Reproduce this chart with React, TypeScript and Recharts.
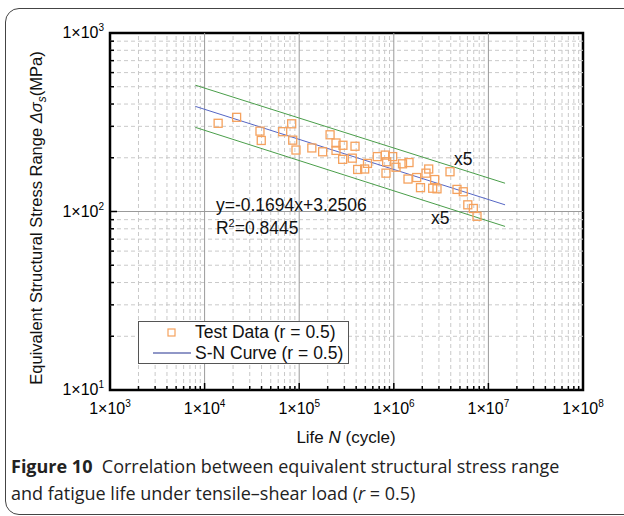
import {
  ScatterChart,
  Scatter,
  XAxis,
  YAxis,
  ReferenceLine,
  ReferenceArea,
  ReferenceDot,
} from "recharts";

// test points (life in cycles, stress range in MPa)
const testN = [
  13900, 21800, 38500, 39700, 66900, 83300, 85400, 92500, 136000, 177000,
  212000, 245000, 290000, 389000, 245000, 288000, 364000, 415000, 492000,
  527000, 669000, 812000, 973000, 841000, 827000, 1055000, 1236000, 1448000,
  1413000, 1746000, 2189000, 2339000, 1915000, 2706000, 2577000, 2862000,
  3928000, 4656000, 5428000, 6057000, 6925000, 7577000,
];
const testS = [
  312, 337, 282, 250, 280, 310, 251, 221, 227, 216, 269, 242, 235, 232, 220,
  196, 199, 172, 173, 186, 203, 207, 203, 190, 164, 177, 185, 188, 152, 155,
  164, 173, 136, 151, 135, 134, 167, 133, 129, 109, 104, 94,
];

// S-N curve and the x5 scatter band, end points
const lineN = [8000, 15000000];
const fitS = [388, 109];
const upperS = [510, 144];
const lowerS = [296, 82.5];

const xMajor = [1e3, 1e4, 1e5, 1e6, 1e7, 1e8];
const yMajor = [10, 100, 1000];
const xMinor = xMajor.slice(0, -1).flatMap((d) =>
  [2, 3, 4, 5, 6, 7, 8, 9].map((m) => m * d)
);
const yMinor = yMajor.slice(0, -1).flatMap((d) =>
  [2, 3, 4, 5, 6, 7, 8, 9].map((m) => m * d)
);
const expOf: Record<number, string> = {
  10: "1", 100: "2", 1000: "3", 10000: "4", 100000: "5",
  1000000: "6", 10000000: "7", 100000000: "8",
};

const testData = testN.map((n, i) => ({ n, s: testS[i] }));
const fitData = lineN.map((n, i) => ({ n, s: fitS[i] }));
const upperData = lineN.map((n, i) => ({ n, s: upperS[i] }));
const lowerData = lineN.map((n, i) => ({ n, s: lowerS[i] }));

const FONT = "'Liberation Sans', Arial, sans-serif";
const ORANGE = "#f5a25e";
const BLUE = "#5566c4";
const GREEN = "#4a9e4a";

const Square = ({ cx, cy }: any) => (
  <rect x={cx - 4} y={cy - 4} width={8} height={8} fill="none" stroke={ORANGE} strokeWidth={1.3} />
);

const XTick = ({ x, y, payload }: any) => {
  const major = expOf[payload.value] !== undefined;
  return (
    <g>
      <line x1={x} y1={y} x2={x} y2={y - (major ? 7 : 4)} stroke="#000" strokeWidth={1.5} />
      {major && (
        <text x={x} y={y + 24} textAnchor="middle" fontSize={16} fontFamily={FONT} fill="#000">
          1×10<tspan dy={-7} fontSize={10}>{expOf[payload.value]}</tspan>
        </text>
      )}
    </g>
  );
};

const YTick = ({ x, y, payload }: any) => {
  const major = expOf[payload.value] !== undefined;
  return (
    <g>
      <line x1={x} y1={y} x2={x + (major ? 7 : 4)} y2={y} stroke="#000" strokeWidth={1.5} />
      {major && (
        <text x={x - 6} y={y + 5} textAnchor="end" fontSize={16} fontFamily={FONT} fill="#000">
          1×10<tspan dy={-7} fontSize={10}>{expOf[payload.value]}</tspan>
        </text>
      )}
    </g>
  );
};

const Note = (text: any) => ({ viewBox }: any) => (
  <text x={viewBox.x} y={viewBox.y + 6} fontSize={17.5} fontFamily={FONT} fill="#111">
    {text}
  </text>
);

const LegendBox = () => (
  <div
    style={{
      position: "absolute",
      left: 138,
      top: 321,
      width: 209,
      height: 41,
      border: "1px solid #555",
      background: "#fff",
      fontFamily: FONT,
      fontSize: 17.5,
      color: "#111",
    }}
  >
    <svg width={60} height={41} style={{ position: "absolute", left: 0, top: 0 }}>
      <rect x={29} y={7} width={7} height={7} fill="none" stroke={ORANGE} strokeWidth={1.2} />
      <line x1={14} y1={31} x2={52} y2={31} stroke="#22318f" strokeWidth={1.2} />
    </svg>
    <div style={{ position: "absolute", left: 56, top: 0, lineHeight: "21px" }}>Test Data (r = 0.5)</div>
    <div style={{ position: "absolute", left: 56, top: 21, lineHeight: "21px" }}>S-N Curve (r = 0.5)</div>
  </div>
);

export default function App() {
  return (
    <div
      style={{
        position: "absolute",
        left: 0,
        top: 0,
        width: 624,
        height: 516,
        overflow: "hidden",
        background: "#fff",
      }}
    >
      <div
        style={{
          position: "absolute",
          left: 5,
          top: 8,
          width: 680,
          height: 505,
          border: "1.5px solid #444",
          borderRadius: 14,
        }}
      />
      <ScatterChart
        width={624}
        height={460}
        margin={{ top: 33, right: 41, left: 10, bottom: 10 }}
        style={{ position: "absolute", left: 0, top: 0 }}
      >
        <XAxis
          type="number"
          dataKey="n"
          scale="log"
          domain={[1e3, 1e8]}
          ticks={[...xMajor, ...xMinor]}
          interval={0}
          tickSize={0}
          tickMargin={0}
          axisLine={false}
          tickLine={false}
          tick={<XTick />}
          height={60}
          allowDataOverflow
          label={{
            content: () => (
              <text x={346} y={443} textAnchor="middle" fontSize={17} fontFamily={FONT} fill="#111">
                Life <tspan fontStyle="italic">N</tspan> (cycle)
              </text>
            ),
          }}
        />
        <YAxis
          type="number"
          dataKey="s"
          scale="log"
          domain={[10, 1000]}
          ticks={[...yMajor, ...yMinor]}
          interval={0}
          tickSize={0}
          tickMargin={0}
          axisLine={false}
          tickLine={false}
          tick={<YTick />}
          width={100}
          allowDataOverflow
          label={{
            content: () => (
              <text
                transform="translate(42,218) rotate(-90)"
                textAnchor="middle"
                fontSize={16.5}
                fontFamily={FONT}
                fill="#111"
              >
                Equivalent Structural Stress Range{" "}
                <tspan fontStyle="italic">Δσ</tspan>
                <tspan dy={4} fontSize={12} fontStyle="italic">s</tspan>
                <tspan dy={-4}>(MPa)</tspan>
              </text>
            ),
          }}
        />
        {xMinor.map((v) => (
          <ReferenceLine key={"xm" + v} x={v} stroke="#c9c9c9" strokeDasharray="4 3" />
        ))}
        {yMinor.map((v) => (
          <ReferenceLine key={"ym" + v} y={v} stroke="#c9c9c9" strokeDasharray="4 3" />
        ))}
        {xMajor.slice(1, -1).map((v) => (
          <ReferenceLine key={"xM" + v} x={v} stroke="#9a9a9a" />
        ))}
        <ReferenceLine y={100} stroke="#9a9a9a" />
        <Scatter data={upperData} line={{ stroke: GREEN, strokeWidth: 1 }} shape={() => <g />} isAnimationActive={false} />
        <Scatter data={lowerData} line={{ stroke: GREEN, strokeWidth: 1 }} shape={() => <g />} isAnimationActive={false} />
        <Scatter data={fitData} line={{ stroke: BLUE, strokeWidth: 1 }} shape={() => <g />} isAnimationActive={false} />
        <Scatter data={testData} shape={<Square />} isAnimationActive={false} />
        <ReferenceDot x={13500} y={107.6} r={1} fill="none" stroke="none" label={{ content: Note("y=-0.1694x+3.2506") }} />
        <ReferenceDot
          x={13500}
          y={80}
          r={1}
          fill="none"
          stroke="none"
          label={{
            content: Note(
              <>
                R<tspan dy={-7} fontSize={11}>2</tspan>
                <tspan dy={7}>=0.8445</tspan>
              </>
            ),
          }}
        />
        <ReferenceDot x={4430000} y={194.6} r={1} fill="none" stroke="none" label={{ content: Note("x5") }} />
        <ReferenceDot x={2530000} y={91} r={1} fill="none" stroke="none" label={{ content: Note("x5") }} />
        <ReferenceArea x1={1e3} x2={1e8} y1={10} y2={1000} fill="none" stroke="#000" strokeWidth={2.5} />
      </ScatterChart>
      <LegendBox />
      <div
        style={{
          position: "absolute",
          left: 11,
          top: 453,
          fontFamily: "'Open Sans', 'Noto Sans', sans-serif",
          fontSize: 18,
          lineHeight: "27px",
          color: "#222",
          whiteSpace: "nowrap",
        }}
      >
        <div>
          <b>Figure 10</b>&nbsp; Correlation between equivalent structural stress range
        </div>
        <div>
          and fatigue life under tensile–shear load (<i>r</i> = 0.5)
        </div>
      </div>
    </div>
  );
}
